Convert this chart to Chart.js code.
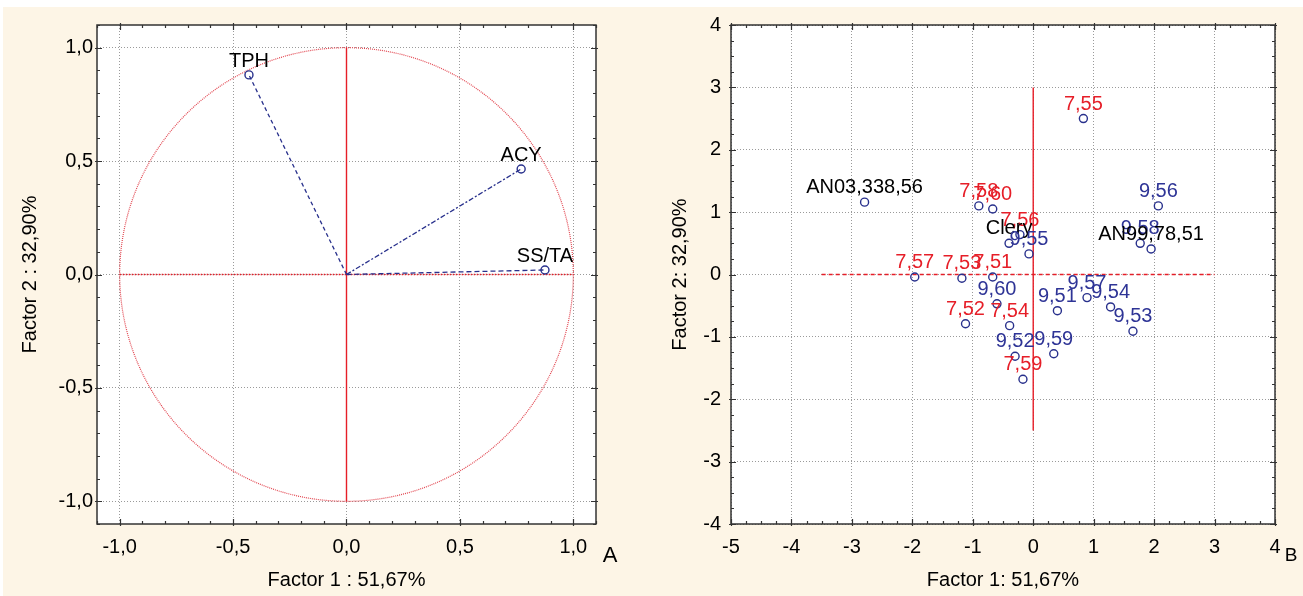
<!DOCTYPE html>
<html>
<head>
<meta charset="utf-8">
<script src="https://cdn.jsdelivr.net/npm/chart.js@4.4.1/dist/chart.umd.min.js"></script>
<style>
  html, body { margin: 0; padding: 0; background: #fff; }
  #page { position: absolute; left: 3px; top: 7px; width: 1300px; height: 589px; background: #fdf5e6; }
  .wrap { position: absolute; top: 0; height: 596px; }
</style>
</head>
<body>
<div id="page"></div>
<div class="wrap" style="left:0;width:650px"><canvas id="chartA" width="650" height="596"></canvas></div>
<div class="wrap" style="left:650px;width:653px"><canvas id="chartB" width="653" height="596"></canvas></div>
<script>
// ---- panel A: variable loadings ----
const varNames = ['TPH', 'ACY', 'SS/TA'];
const varF1 = [-0.43, 0.77, 0.875];
const varF2 = [0.88, 0.465, 0.02];

const ticksA = [-1, -0.5, 0, 0.5, 1];
const tickLabelsA = ['-1,0', '-0,5', '0,0', '0,5', '1,0'];

// ---- panel B: sample scores ----
const sampleNames = ['AN03,338,56', '7,55', '7,58', '7,60', '9,56', '7,56', 'Clery', '9,55', '9,58', 'AN99,78,51',
  '7,57', '7,53', '7,51', '9,60', '7,52', '7,54', '9,52', '9,59', '7,59', '9,51', '9,57', '9,54', '9,53'];
const sampleF1 = [-2.79, 0.83, -0.90, -0.67, 2.07, -0.22, -0.40, -0.07, 1.77, 1.95,
  -1.96, -1.18, -0.67, -0.60, -1.12, -0.39, -0.30, 0.34, -0.17, 0.40, 0.89, 1.28, 1.65];
const sampleF2 = [1.16, 2.50, 1.10, 1.05, 1.10, 0.64, 0.50, 0.33, 0.50, 0.41,
  -0.04, -0.06, -0.04, -0.47, -0.79, -0.82, -1.31, -1.27, -1.68, -0.58, -0.37, -0.52, -0.91];

const xTicksB = [-5, -4, -3, -2, -1, 0, 1, 2, 3, 4];
const yTicksB = [-4, -3, -2, -1, 0, 1, 2, 3, 4];

// reference lines (data units)
const axisLinesA = { v: [[0, -1], [0, 1]], h: [[-1, 0], [1, 0]] };
const axisLinesB = { v: [[0, -2.5], [0, 3]], h: [[-3.5, 0], [3, 0]] };

const FONT = '"Liberation Sans", Arial, sans-serif';
const NAVY = 'rgb(40,48,140)';
const RED = 'rgb(230,30,40)';
const LABEL_BLUE = 'rgb(46,52,150)';

const toPts = arr => arr.map(p => ({ x: p[0], y: p[1] }));

function labelColor(name) {
  if (name.startsWith('7,')) return RED;
  if (name.startsWith('9,')) return LABEL_BLUE;
  return '#000';
}

// white plot area, frame and inward ticks on all sides
function framePlugin(minorStep, majorTicksX, majorTicksY) {
  return {
    id: 'frame',
    beforeDraw(chart) {
      const { ctx, chartArea: a } = chart;
      ctx.save();
      ctx.fillStyle = '#fff';
      ctx.fillRect(a.left, a.top, a.right - a.left, a.bottom - a.top);
      ctx.restore();
    },
    afterDraw(chart) {
      const { ctx, chartArea: a, scales: { x, y } } = chart;
      ctx.save();
      ctx.strokeStyle = '#333';
      ctx.lineWidth = 1.5;
      ctx.strokeRect(a.left, a.top, a.right - a.left, a.bottom - a.top);
      ctx.lineWidth = 1.2;
      ctx.beginPath();
      const isMajor = (v, list) => list.some(m => Math.abs(m - v) < 1e-6);
      for (let v = Math.ceil(x.min / minorStep) * minorStep; v <= x.max + 1e-9; v += minorStep) {
        const px = Math.round(x.getPixelForValue(v)) + 0.5;
        const major = isMajor(v, majorTicksX);
        const inn = major ? 5 : 3, out = major ? 2 : 0;
        ctx.moveTo(px, a.bottom + out); ctx.lineTo(px, a.bottom - inn);
        ctx.moveTo(px, a.top - out); ctx.lineTo(px, a.top + inn);
      }
      for (let v = Math.ceil(y.min / minorStep) * minorStep; v <= y.max + 1e-9; v += minorStep) {
        const py = Math.round(y.getPixelForValue(v)) + 0.5;
        const major = isMajor(v, majorTicksY);
        const inn = major ? 5 : 3, out = major ? 2 : 0;
        ctx.moveTo(a.left - out, py); ctx.lineTo(a.left + inn, py);
        ctx.moveTo(a.right + out, py); ctx.lineTo(a.right - inn, py);
      }
      ctx.stroke();
      ctx.restore();
    }
  };
}

function pointLabels(names, offset, fontSize) {
  return {
    id: 'pointLabels',
    afterDatasetsDraw(chart) {
      const meta = chart.getDatasetMeta(0);
      const ctx = chart.ctx;
      ctx.save();
      ctx.font = fontSize + 'px ' + FONT;
      ctx.textAlign = 'center';
      ctx.textBaseline = 'alphabetic';
      meta.data.forEach((pt, i) => {
        ctx.fillStyle = labelColor(names[i]);
        ctx.fillText(names[i], pt.x, pt.y - offset);
      });
      ctx.restore();
    }
  };
}

function panelLetter(letter, dx, baseline, size) {
  return {
    id: 'panelLetter',
    afterDraw(chart) {
      const ctx = chart.ctx;
      ctx.save();
      ctx.font = size + 'px ' + FONT;
      ctx.fillStyle = '#000';
      ctx.textAlign = 'center';
      ctx.fillText(letter, chart.chartArea.right + dx, baseline);
      ctx.restore();
    }
  };
}

const unitCircle = {
  id: 'unitCircle',
  beforeDatasetsDraw(chart) {
    const { ctx, scales: { x, y } } = chart;
    const cx = x.getPixelForValue(0), cy = y.getPixelForValue(0);
    const rx = x.getPixelForValue(1) - cx, ry = cy - y.getPixelForValue(1);
    ctx.save();
    ctx.strokeStyle = 'rgb(226,70,80)';
    ctx.lineWidth = 1.2;
    ctx.setLineDash([1, 1]);
    ctx.beginPath();
    ctx.ellipse(cx, cy, rx, ry, 0, 0, Math.PI * 2);
    ctx.stroke();
    ctx.restore();
  }
};

function axisOpts(o) {
  return {
    type: 'linear',
    min: o.min, max: o.max,
    afterBuildTicks: s => { s.ticks = o.ticks.map(v => ({ value: v })); },
    afterFit: o.fit,
    ticks: {
      color: '#000',
      font: { family: FONT, size: 20 },
      padding: o.pad,
      autoSkip: false,
      maxRotation: 0,
      callback: o.label
    },
    grid: { color: '#9a9a9a', lineWidth: 1, drawTicks: false },
    border: { display: false, dash: [1, 2] },
    title: {
      display: true, text: o.title, color: '#000',
      font: { family: FONT, size: 20 },
      padding: o.titlePad
    }
  };
}

const vectorDash = [[4, 3], [5, 2, 2, 2], [5, 3]];

new Chart(document.getElementById('chartA'), {
  type: 'scatter',
  data: {
    datasets: [
      {
        data: varF1.map((v, i) => ({ x: v, y: varF2[i] })),
        pointRadius: 4, borderColor: NAVY, backgroundColor: 'rgba(0,0,0,0)', borderWidth: 1.4
      },
      ...varNames.map((n, i) => ({
        data: [{ x: 0, y: 0 }, { x: varF1[i], y: varF2[i] }],
        showLine: true, pointRadius: 0, borderColor: NAVY, borderWidth: 1.3, borderDash: vectorDash[i]
      })),
      { data: toPts(axisLinesA.v), showLine: true, pointRadius: 0, borderColor: RED, borderWidth: 1.4 },
      { data: toPts(axisLinesA.h), showLine: true, pointRadius: 0, borderColor: RED, borderWidth: 1.3, borderDash: [1.5, 1.5] }
    ]
  },
  options: {
    responsive: false, animation: false,
    layout: { padding: { top: 25, right: 54, bottom: 0, left: 0 } },
    plugins: { legend: { display: false }, tooltip: { enabled: false } },
    scales: {
      x: axisOpts({ min: -1.1, max: 1.1, ticks: ticksA, pad: 11, title: 'Factor 1 : 51,67%',
        titlePad: { top: 0, bottom: 4 }, fit: s => { s.height = 72; },
        label: v => tickLabelsA[ticksA.indexOf(v)] }),
      y: axisOpts({ min: -1.1, max: 1.1, ticks: ticksA, pad: 4, title: 'Factor 2 : 32,90%',
        titlePad: { top: 18, bottom: 0 }, fit: s => { s.width = 97; },
        label: v => tickLabelsA[ticksA.indexOf(v)] })
    }
  },
  plugins: [framePlugin(0.1, ticksA, ticksA), unitCircle, pointLabels(varNames, 8, 20), panelLetter('A', 14, 562, 22)]
});

new Chart(document.getElementById('chartB'), {
  type: 'scatter',
  data: {
    datasets: [
      {
        data: sampleF1.map((v, i) => ({ x: v, y: sampleF2[i] })),
        pointRadius: 4, borderColor: NAVY, backgroundColor: 'rgba(0,0,0,0)', borderWidth: 1.4
      },
      { data: toPts(axisLinesB.v), showLine: true, pointRadius: 0, borderColor: RED, borderWidth: 1.4 },
      { data: toPts(axisLinesB.h), showLine: true, pointRadius: 0, borderColor: RED, borderWidth: 1.4, borderDash: [4, 3] }
    ]
  },
  options: {
    responsive: false, animation: false,
    layout: { padding: { top: 25, right: 28, bottom: 0, left: 0 } },
    plugins: { legend: { display: false }, tooltip: { enabled: false } },
    scales: {
      x: axisOpts({ min: -5, max: 4, ticks: xTicksB, pad: 11, title: 'Factor 1: 51,67%',
        titlePad: { top: 0, bottom: 4 }, fit: s => { s.height = 72; },
        label: v => String(v) }),
      y: axisOpts({ min: -4, max: 4, ticks: yTicksB, pad: 10, title: 'Factor 2: 32,90%',
        titlePad: { top: 18, bottom: 0 }, fit: s => { s.width = 81; },
        label: v => String(v) })
    }
  },
  plugins: [framePlugin(0.25, xTicksB, yTicksB), pointLabels(sampleNames, 9, 20), panelLetter('B', 16, 561, 19)]
});
</script>
</body>
</html>
